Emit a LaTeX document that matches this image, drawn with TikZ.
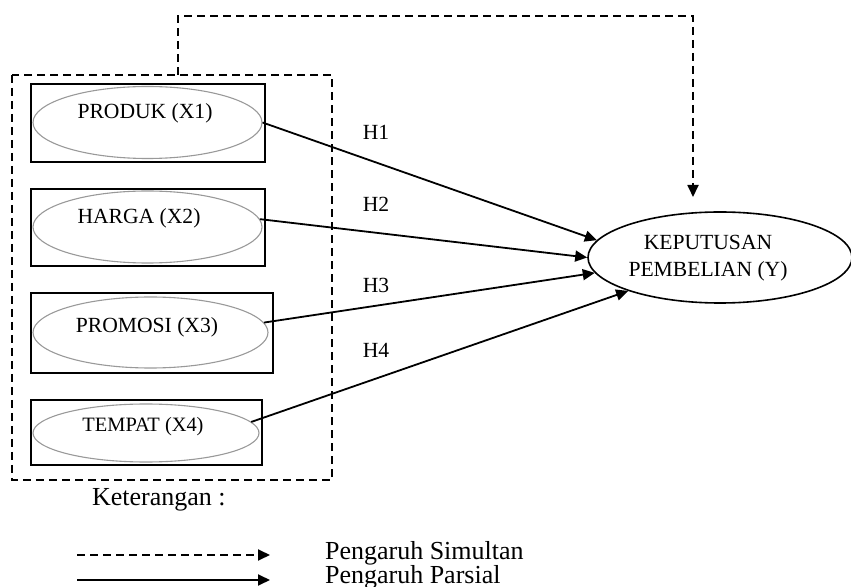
\documentclass[tikz,border=0pt]{standalone}
\usepackage{fontspec}
\setmainfont{Liberation Serif}
\usetikzlibrary{shapes.geometric,arrows.meta}

\begin{document}
\begin{tikzpicture}[x=0.5pt,y=-0.5pt,
    var/.style={draw=gray!80,line width=0.55pt,ellipse,inner sep=0pt},
    varbox/.style={draw,line width=1pt},
    lbl/.style={font=\fontsize{10.8}{13.5}\selectfont},
    leg/.style={font=\fontsize{13}{14}\selectfont},
    partial/.style={line width=0.9pt,-{Triangle[length=6pt,width=5.5pt]}},
    simul/.style={line width=0.9pt,dash pattern=on 4pt off 2.5pt,-{Triangle[length=6pt,width=5.5pt]}}]
    \useasboundingbox (0,0) rectangle (851,587);
    \draw[line width=0.9pt,dash pattern=on 4pt off 2.5pt] (12,75) rectangle (332,480);
    \draw[varbox] (31,84) rectangle (265,162);
    \draw[varbox] (31,189) rectangle (265,266);
    \draw[varbox] (31,293) rectangle (273,373);
    \draw[varbox] (31,400) rectangle (262,465);
    \node[var,minimum width=114.5pt,minimum height=36pt] (x1) at (147.5,122.5) {};
    \node[var,minimum width=114.5pt,minimum height=36pt] (x2) at (147.5,227) {};
    \node[var,minimum width=117.5pt,minimum height=35.5pt] (x3) at (150.5,332.5) {};
    \node[var,minimum width=113pt,minimum height=29pt] (x4) at (146,433) {};
    \node[lbl] (t1) at (145,113) {PRODUK (X1)};
    \node[lbl] (t2) at (139,218) {HARGA (X2)};
    \node[lbl] (t3) at (147,327) {PROMOSI (X3)};
    \node[lbl,font=\fontsize{10.2}{12}\selectfont] (t4) at (143,427) {TEMPAT (X4)};
    \node[draw,ellipse,line width=0.8pt,minimum width=132pt,minimum height=45.5pt] (y) at (720,257.5) {};
    \node[lbl,align=center] (ty) at (708,258.5) {KEPUTUSAN\\PEMBELIAN (Y)};
    \draw[partial] (x1.east) -- (y.172);
    \draw[partial] (x2.4) -- (y.180);
    \draw[partial] (x3.5) -- (y.187);
    \draw[partial] (x4.6) -- (y.200);
    \node[lbl] (h1) at (376,132) {H1};
    \node[lbl] (h2) at (376,204) {H2};
    \node[lbl] (h3) at (376,285) {H3};
    \node[lbl] (h4) at (376,350) {H4};
    \coordinate (s) at (178,75);
    \coordinate (yin) at (693,197);
    \draw[simul] (s) -- (178,16) -| (yin);
    \node[leg,anchor=west] (ket) at (85,500) {Keterangan :};
    \coordinate (la) at (77,555);
    \coordinate (lb) at (270,555);
    \coordinate (lc) at (77,580);
    \coordinate (ld) at (270,580);
    \draw[simul] (la) -- (lb);
    \draw[partial] (lc) -- (ld);
    \node[leg,anchor=west] (l1) at (318,553) {Pengaruh Simultan};
    \node[leg,anchor=west] (l2) at (318,577) {Pengaruh Parsial};
\end{tikzpicture}
\end{document}
